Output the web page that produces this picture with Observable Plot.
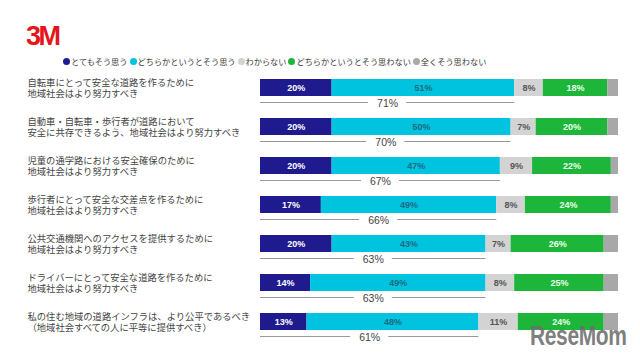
<!DOCTYPE html>
<html>
<head>
<meta charset="utf-8">
<script src="https://cdn.jsdelivr.net/npm/d3@7"></script>
<script src="https://cdn.jsdelivr.net/npm/@observablehq/plot@0.6"></script>
<style>
  html, body { margin: 0; padding: 0; background: #fff; }
  body { width: 640px; height: 360px; position: relative; overflow: hidden;
         font-family: "Noto Sans CJK JP", "Noto Sans", sans-serif; }
  #header { position: relative; height: 70px; }
  #logo { position: absolute; left: 26px; top: 23px; font-family: "Liberation Sans", Arial, sans-serif;
          font-weight: 900; font-size: 27px; color: #e4161c; letter-spacing: -2.5px; line-height: 1; }
  #legend { position: absolute; left: 63px; top: 55px; font-size: 8.2px; color: #3a3a3a; display: flex; gap: 2px; align-items: center; white-space: nowrap; }
  #legend .item { display: flex; align-items: center; gap: 1px; }
  #legend .dot { width: 7px; height: 7px; border-radius: 50%; display: inline-block; }
  #watermark { position: absolute; left: 530px; top: 322px; font-family: "Liberation Sans", Arial, sans-serif;
               font-weight: bold; font-size: 28px; line-height: 1; color: rgba(110,110,110,0.9); letter-spacing: -0.5px;
               transform-origin: left top; transform: scaleX(0.75); }
</style>
</head>
<body>
<div id="header"><div id="logo">3M</div><div id="legend"></div></div>
<div id="chart"></div>
<div id="watermark">ReseMom</div>
<script>
const categories = ["とてもそう思う", "どちらかというとそう思う", "わからない", "どちらかというとそう思わない", "全くそう思わない"];
const colors = ["#1f1b8e", "#00c3e0", "#d3d3d3", "#1db63b", "#a8a8a8"];
const labelColors = ["#ffffff", "#1d6a7e", "#555555", "#eaffea", null];

const questions = [
  "自転車にとって安全な道路を作るために\n地域社会はより努力すべき",
  "自動車・自転車・歩行者が道路において\n安全に共存できるよう、地域社会はより努力すべき",
  "児童の通学路における安全確保のために\n地域社会はより努力すべき",
  "歩行者にとって安全な交差点を作るために\n地域社会はより努力すべき",
  "公共交通機関へのアクセスを提供するために\n地域社会はより努力すべき",
  "ドライバーにとって安全な道路を作るために\n地域社会はより努力すべき",
  "私の住む地域の道路インフラは、より公平であるべき\n（地域社会すべての人に平等に提供すべき）"
];
const strongAgree    = [20, 20, 20, 17, 20, 14, 13];
const agree          = [51, 50, 47, 49, 43, 49, 48];
const unsure         = [8, 7, 9, 8, 7, 8, 11];
const disagree       = [18, 20, 22, 24, 26, 25, 24];
const strongDisagree = [3, 3, 2, 2, 4, 4, 4];
const agreeTotal     = [71, 70, 67, 66, 63, 63, 61];

const series = [strongAgree, agree, unsure, disagree, strongDisagree];

// long format with cumulative start/end
const rows = [];
questions.forEach((q, i) => {
  let acc = 0;
  series.forEach((s, k) => {
    rows.push({q, cat: categories[k], k, value: s[i], start: acc, end: acc + s[i]});
    acc += s[i];
  });
});
const totals = questions.map((q, i) => ({q, total: agreeTotal[i]}));

// legend
const legend = d3.select("#legend");
categories.forEach((c, k) => {
  const it = legend.append("span").attr("class", "item");
  it.append("span").attr("class", "dot").style("background", colors[k]);
  it.append("span").text(c);
});

const textMarks = categories.slice(0, 4).map((c, k) =>
  Plot.text(rows.filter(d => d.k === k), {
    x: d => (d.start + d.end) / 2, y: "q", text: d => d.value + "%",
    fill: labelColors[k], fontSize: 9, fontWeight: 600,
    fontFamily: "Liberation Sans, Arial, sans-serif"
  })
);

const bracket = {stroke: "#9a9a9a", strokeWidth: 1};

const chart = Plot.plot({
  width: 640,
  height: 290,
  marginLeft: 260,
  marginRight: 22,
  marginTop: 0,
  marginBottom: 0,
  x: {domain: [0, 100], axis: null},
  y: {domain: questions, range: [9, 263.5], paddingInner: 0.557, paddingOuter: 0, align: 0, axis: null},
  color: {domain: categories, range: colors},
  marks: [
    Plot.barX(rows, {x1: "start", x2: "end", y: "q", fill: "cat"}),
    ...textMarks,
    // bracket: two segments with a gap for the label
    Plot.ruleY(totals, {y: "q", x1: 0, x2: d => d.total / 2, insetRight: 19, dy: 14.5, ...bracket}),
    Plot.ruleY(totals, {y: "q", x1: d => d.total / 2, x2: "total", insetLeft: 19, dy: 14.5, ...bracket}),
    Plot.ruleX(totals, {x: 0, y: "q", dy: 5.8, insetTop: 14.5, ...bracket}),
    Plot.ruleX(totals, {x: "total", y: "q", dy: 5.8, insetTop: 14.5, ...bracket}),
    Plot.text(totals, {
      x: d => d.total / 2, y: "q", dy: 15.5, text: d => d.total + "%",
      fill: "#444", fontSize: 10.5, fontFamily: "Liberation Sans, Arial, sans-serif"
    }),
    // question labels
    Plot.text(questions, {
      y: d => d, text: d => d, frameAnchor: "left", dx: -233, textAnchor: "start",
      fill: "#444", fontSize: 9.3, lineHeight: 1.12,
      fontFamily: "Noto Sans CJK JP, sans-serif"
    })
  ]
});
document.getElementById("chart").appendChild(chart);
</script>
</body>
</html>
